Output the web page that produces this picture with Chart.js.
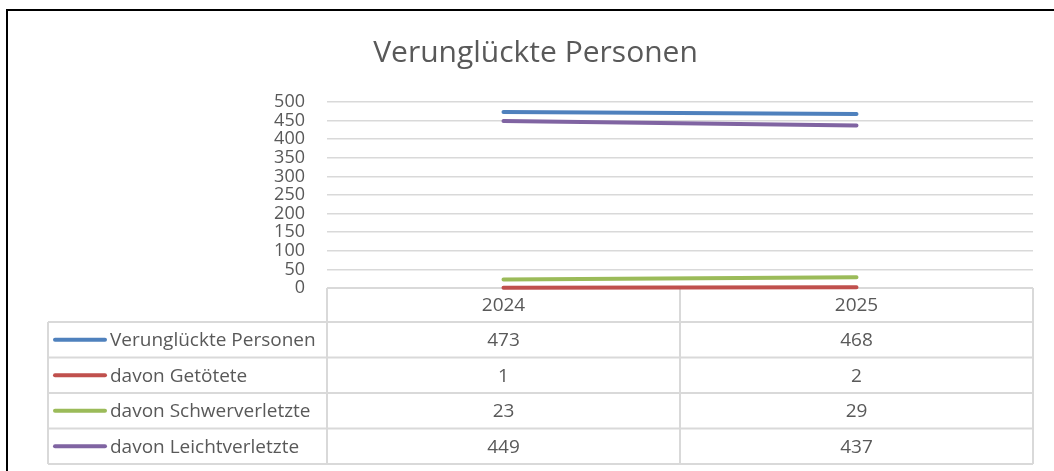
<!DOCTYPE html>
<html>
<head>
<meta charset="utf-8">
<script src="https://cdn.jsdelivr.net/npm/chart.js@4"></script>
<style>
  html, body { margin: 0; padding: 0; background: #fff; }
  #wrap { position: relative; width: 1054px; height: 471px; overflow: hidden; }
  #frame { position: absolute; left: 6px; top: 9px; width: 1100px; height: 500px;
           border-top: 2px solid #000; border-left: 2px solid #000; }
  canvas { position: absolute; left: 0; top: 0; }
</style>
</head>
<body>
<div id="wrap">
  <div id="frame"></div>
  <canvas id="chart" width="1054" height="471"></canvas>
</div>
<script>
const years = ['2024', '2025'];
const verunglueckte = [473, 468];
const getoetete = [1, 2];
const schwerverletzte = [23, 29];
const leichtverletzte = [449, 437];
const yTicks = [0, 50, 100, 150, 200, 250, 300, 350, 400, 450, 500];

const textColor = '#595959';
const gridColor = '#d9d9d9';
const fontFamily = '"Open Sans", "DejaVu Sans", sans-serif';

function lineDataset(label, data, color) {
    return {
        label: label,
        data: data,
        borderColor: color,
        backgroundColor: color,
        borderWidth: 4,
        borderCapStyle: 'round',
        pointRadius: 0,
        tension: 0,
        clip: false
    };
}

const datasets = [
    lineDataset('Verunglückte Personen', verunglueckte, '#4f81bd'),
    lineDataset('davon Getötete', getoetete, '#c0504d'),
    lineDataset('davon Schwerverletzte', schwerverletzte, '#9bbb59'),
    lineDataset('davon Leichtverletzte', leichtverletzte, '#8064a2')
];

const headerH = 34;
const rowH = 35.5;
const legendLeft = 48;

function tableGeometry(chart) {
    const area = chart.chartArea;
    const x = chart.scales.x;
    const colEdges = [area.left];
    for (let i = 0; i < years.length - 1; i++) {
        colEdges.push((x.getPixelForValue(i) + x.getPixelForValue(i + 1)) / 2);
    }
    colEdges.push(area.right);
    const top = area.bottom;
    const rowsTop = top + headerH;
    const bottom = rowsTop + rowH * chart.data.datasets.length;
    return { area, x, colEdges, top, rowsTop, bottom };
}

// data table under the plot, columns follow the x scale
const dataTablePlugin = {
    id: 'dataTable',
    beforeDatasetsDraw(chart) {
        const ctx = chart.ctx;
        const g = tableGeometry(chart);
        ctx.save();
        ctx.strokeStyle = gridColor;
        ctx.lineWidth = 2;
        ctx.beginPath();
        ctx.moveTo(g.area.left, g.top);
        ctx.lineTo(g.area.right, g.top);
        g.colEdges.forEach(cx => {
            ctx.moveTo(cx, g.top);
            ctx.lineTo(cx, g.bottom);
        });
        for (let r = 0; r <= chart.data.datasets.length; r++) {
            const ry = g.rowsTop + r * rowH;
            ctx.moveTo(legendLeft, ry);
            ctx.lineTo(g.area.right, ry);
        }
        ctx.moveTo(legendLeft, g.rowsTop);
        ctx.lineTo(legendLeft, g.bottom);
        ctx.stroke();
        ctx.restore();
    },
    afterDraw(chart) {
        const ctx = chart.ctx;
        const g = tableGeometry(chart);
        ctx.save();
        ctx.fillStyle = textColor;
        ctx.font = '19px ' + fontFamily;
        ctx.textBaseline = 'middle';
        ctx.textAlign = 'center';
        years.forEach((yr, i) => {
            ctx.fillText(yr, g.x.getPixelForValue(i), g.top + headerH / 2 + 1);
        });

        chart.data.datasets.forEach((ds, r) => {
            const cy = g.rowsTop + r * rowH + rowH / 2;
            ctx.strokeStyle = ds.borderColor;
            ctx.lineWidth = 4;
            ctx.lineCap = 'round';
            ctx.beginPath();
            ctx.moveTo(55, cy);
            ctx.lineTo(105, cy);
            ctx.stroke();

            ctx.fillStyle = textColor;
            ctx.textAlign = 'left';
            ctx.fillText(ds.label, 110, cy + 1);
            ctx.textAlign = 'center';
            ds.data.forEach((v, i) => {
                ctx.fillText(String(v), g.x.getPixelForValue(i), cy + 1);
            });
        });
        ctx.restore();
    }
};

new Chart(document.getElementById('chart'), {
    type: 'line',
    data: {
        labels: years,
        datasets: datasets
    },
    options: {
        responsive: false,
        animation: false,
        layout: {
            // left padding only recentres the title, y axis fills the rest
            padding: { top: 0, right: 21, bottom: 183, left: 38 }
        },
        plugins: {
            legend: { display: false },
            tooltip: { enabled: false },
            title: {
                display: true,
                text: 'Verunglückte Personen',
                color: textColor,
                font: { family: fontFamily, size: 30, weight: 'normal' },
                padding: { top: 35, bottom: 31 }
            }
        },
        scales: {
            x: {
                offset: true,
                display: false
            },
            y: {
                min: 0,
                max: 500,
                afterFit(scale) {
                    scale.width = 289;
                },
                afterBuildTicks(scale) {
                    scale.ticks = yTicks.map(v => ({ value: v }));
                },
                border: { display: false },
                grid: {
                    color: gridColor,
                    lineWidth: 1.5,
                    drawTicks: false
                },
                ticks: {
                    color: textColor,
                    padding: 22,
                    autoSkip: false,
                    font: { family: fontFamily, size: 18, lineHeight: 1 }
                }
            }
        }
    },
    plugins: [dataTablePlugin]
});
</script>
</body>
</html>
